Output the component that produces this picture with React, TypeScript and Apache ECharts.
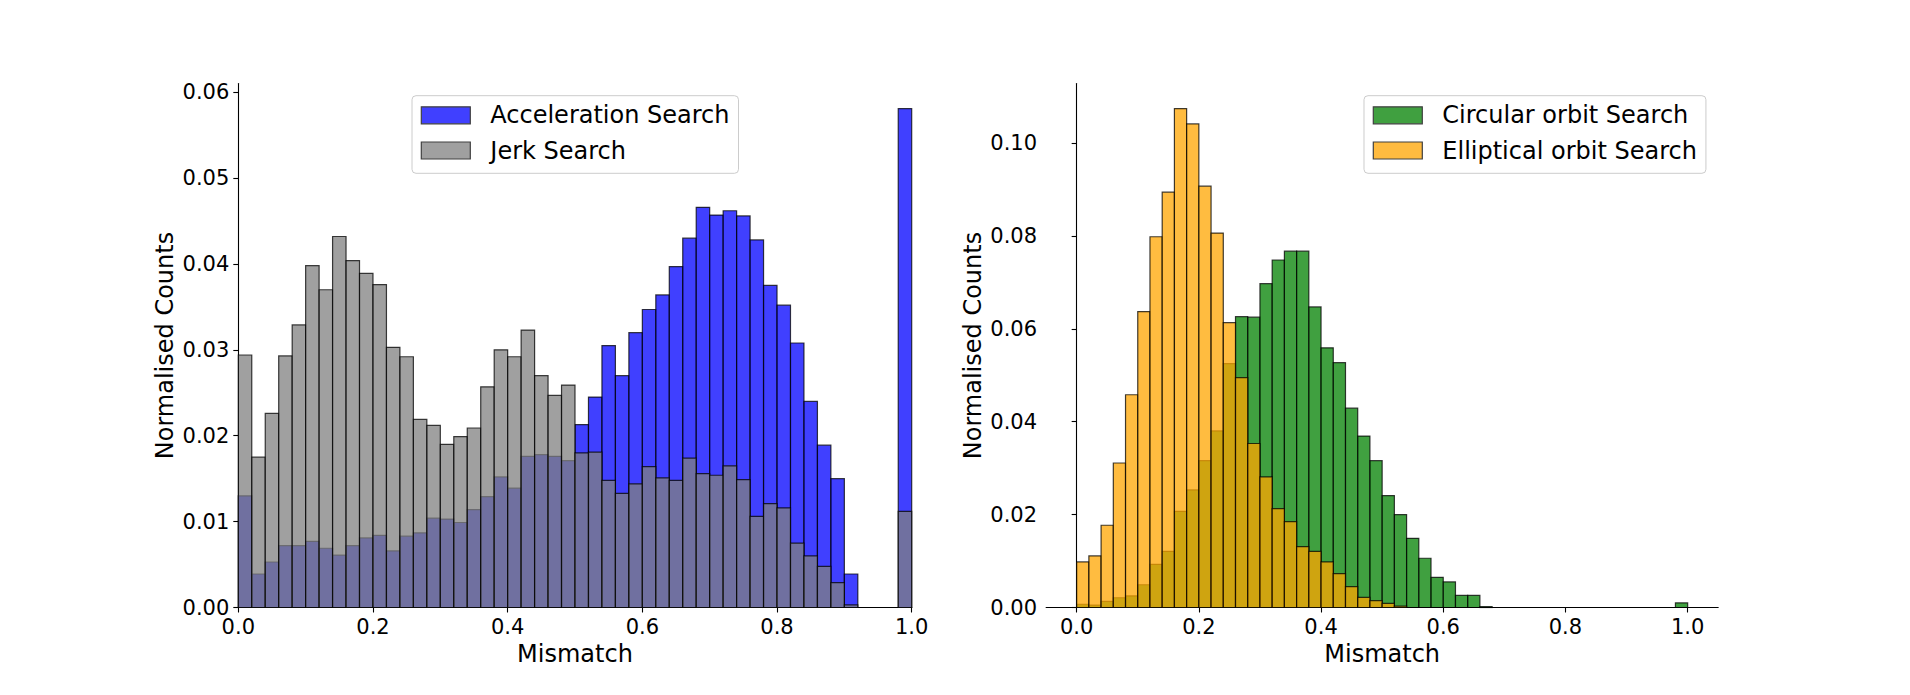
import React, { useEffect, useRef } from "react";
import * as echarts from "echarts";

// Histogram bin edges (Mismatch), 50 bins of width 0.02
const BIN_EDGES = [
  0.0, 0.02, 0.04, 0.06, 0.08, 0.1, 0.12, 0.14, 0.16, 0.18,
  0.2, 0.22, 0.24, 0.26, 0.28, 0.3, 0.32, 0.34, 0.36, 0.38,
  0.4, 0.42, 0.44, 0.46, 0.48, 0.5, 0.52, 0.54, 0.56, 0.58,
  0.6, 0.62, 0.64, 0.66, 0.68, 0.7, 0.72, 0.74, 0.76, 0.78,
  0.8, 0.82, 0.84, 0.86, 0.88, 0.9, 0.92, 0.94, 0.96, 0.98, 1.0,
];

// Left panel
const ACCEL_SEARCH = [
  0.0130, 0.0039, 0.0053, 0.0072, 0.0072, 0.0077, 0.0069, 0.0061, 0.0072, 0.0081,
  0.0084, 0.0066, 0.0083, 0.0087, 0.0104, 0.0103, 0.0099, 0.0114, 0.0129, 0.0152,
  0.0139, 0.0176, 0.0178, 0.0176, 0.0171, 0.0213, 0.0245, 0.0305, 0.0270, 0.0320,
  0.0347, 0.0364, 0.0397, 0.0430, 0.0466, 0.0457, 0.0462, 0.0456, 0.0428, 0.0375,
  0.0352, 0.0308, 0.0240, 0.0189, 0.0150, 0.0039, 0, 0, 0, 0.0581,
];
const JERK_SEARCH = [
  0.0294, 0.0175, 0.0226, 0.0293, 0.0329, 0.0398, 0.0370, 0.0432, 0.0404, 0.0389,
  0.0376, 0.0303, 0.0292, 0.0219, 0.0212, 0.0190, 0.0199, 0.0209, 0.0257, 0.0300,
  0.0292, 0.0323, 0.0270, 0.0247, 0.0259, 0.0180, 0.0181, 0.0148, 0.0133, 0.0144,
  0.0164, 0.0151, 0.0148, 0.0174, 0.0156, 0.0154, 0.0165, 0.0149, 0.0106, 0.0121,
  0.0116, 0.0075, 0.0060, 0.0048, 0.0029, 0.0003, 0, 0, 0, 0.0112,
];

// Right panel
const CIRCULAR_SEARCH = [
  0.0007, 0.0005, 0.0013, 0.0021, 0.0025, 0.0049, 0.0093, 0.0121, 0.0207, 0.0253,
  0.0316, 0.0380, 0.0525, 0.0626, 0.0625, 0.0697, 0.0748, 0.0767, 0.0767, 0.0647,
  0.0559, 0.0527, 0.0429, 0.0369, 0.0316, 0.0241, 0.0200, 0.0149, 0.0106, 0.0065,
  0.0055, 0.0026, 0.0026, 0.0002, 0, 0, 0, 0, 0, 0,
  0, 0, 0, 0, 0, 0, 0, 0, 0, 0.0010,
];
const ELLIPTICAL_SEARCH = [
  0.0098, 0.0111, 0.0177, 0.0311, 0.0458, 0.0637, 0.0798, 0.0894, 0.1074, 0.1041,
  0.0907, 0.0806, 0.0613, 0.0495, 0.0353, 0.0281, 0.0213, 0.0185, 0.0131, 0.0121,
  0.0098, 0.0073, 0.0045, 0.0022, 0.0015, 0.0009, 0.0003, 0, 0, 0,
  0, 0, 0, 0, 0, 0, 0, 0, 0, 0,
  0, 0, 0, 0, 0, 0, 0, 0, 0, 0,
];

const SERIES_NAMES = [
  "Acceleration Search",
  "Jerk Search",
  "Circular orbit Search",
  "Elliptical orbit Search",
];

const X_TICKS = [0, 0.2, 0.4, 0.6, 0.8, 1.0];
const Y_TICKS_LEFT = [0, 0.01, 0.02, 0.03, 0.04, 0.05, 0.06];
const Y_TICKS_RIGHT = [0, 0.02, 0.04, 0.06, 0.08, 0.1];

const FONT = "DejaVu Sans";

const toBins = (vals: number[]) =>
  vals.map((v, i) => [BIN_EDGES[i], BIN_EDGES[i + 1], v]);

const makeRender = (fill: string) => (params: any, api: any) => {
  const x0 = api.value(0);
  const x1 = api.value(1);
  const v = api.value(2);
  const a = api.coord([x0, v]);
  const b = api.coord([x1, 0]);
  return {
    type: "rect",
    shape: { x: a[0], y: a[1], width: b[0] - a[0], height: b[1] - a[1] },
    style: { fill, stroke: "rgba(0,0,0,0.75)", lineWidth: 1.2 },
  };
};

const axisLineStyle = { color: "#000", width: 1.1 };

function xAxis(gridIndex: number, min: number, max: number) {
  return {
    type: "value",
    gridIndex,
    min,
    max,
    name: "Mismatch",
    nameLocation: "middle",
    nameGap: 33,
    nameTextStyle: { fontFamily: FONT, fontSize: 24, color: "#000" },
    axisLine: { show: true, lineStyle: axisLineStyle },
    axisTick: { show: true, length: 5, lineStyle: axisLineStyle, customValues: X_TICKS },
    axisLabel: {
      fontFamily: FONT,
      fontSize: 21,
      color: "#000",
      margin: 9,
      customValues: X_TICKS,
      formatter: (v: number) => v.toFixed(1),
    },
    splitLine: { show: false },
  };
}

function yAxis(gridIndex: number, max: number, ticks: number[]) {
  return {
    type: "value",
    gridIndex,
    min: 0,
    max,
    name: "Normalised Counts",
    nameLocation: "middle",
    nameGap: 61,
    nameTextStyle: { fontFamily: FONT, fontSize: 24, color: "#000" },
    axisLine: { show: true, lineStyle: axisLineStyle },
    axisTick: { show: true, length: 5, lineStyle: axisLineStyle, customValues: ticks },
    axisLabel: {
      fontFamily: FONT,
      fontSize: 21,
      color: "#000",
      margin: 9,
      customValues: ticks,
      formatter: (v: number) => v.toFixed(2),
    },
    splitLine: { show: false },
  };
}

function legend(left: number, items: { name: string; color: string }[]) {
  return {
    left,
    top: 95.7,
    orient: "vertical",
    selectedMode: false,
    itemWidth: 49,
    itemHeight: 17,
    itemGap: 11.2,
    padding: [7.6, 9, 10.8, 8.7],
    backgroundColor: "rgba(255,255,255,0.8)",
    borderColor: "#cccccc",
    borderWidth: 1,
    borderRadius: 4,
    textStyle: { fontFamily: FONT, fontSize: 24, color: "#000", padding: [0, 0, 0, 15] },
    data: items.map((it) => ({
      name: it.name,
      icon: "rect",
      itemStyle: { color: it.color, borderColor: "#404040", borderWidth: 1.2 },
    })),
  };
}

export default function App() {
  const ref = useRef<HTMLDivElement>(null);

  useEffect(() => {
    if (!ref.current) return;
    const chart = echarts.init(ref.current, undefined, { renderer: "svg" });
    const leftMax = Math.max(...ACCEL_SEARCH, ...JERK_SEARCH) * 1.05;
    const rightMax = Math.max(...CIRCULAR_SEARCH, ...ELLIPTICAL_SEARCH) * 1.05;

    chart.setOption({
      animation: false,
      backgroundColor: "#fff",
      grid: [
        { left: 238.3, top: 83.6, width: 673.4, height: 523.9, containLabel: false },
        { left: 1046.1, top: 83.6, width: 672.1, height: 523.9, containLabel: false },
      ],
      xAxis: [xAxis(0, 0, 1), xAxis(1, -0.05, 1.05)],
      yAxis: [yAxis(0, leftMax, Y_TICKS_LEFT), yAxis(1, rightMax, Y_TICKS_RIGHT)],
      legend: [
        legend(412, [
          { name: SERIES_NAMES[0], color: "#4040ff" },
          { name: SERIES_NAMES[1], color: "#a0a0a0" },
        ]),
        legend(1364, [
          { name: SERIES_NAMES[2], color: "#40a040" },
          { name: SERIES_NAMES[3], color: "#ffbb40" },
        ]),
      ],
      series: [
        {
          type: "custom",
          name: SERIES_NAMES[0],
          xAxisIndex: 0,
          yAxisIndex: 0,
          encode: { x: [0, 1], y: 2 },
          itemStyle: { color: "#4040ff" },
          renderItem: makeRender("rgba(0,0,255,0.75)"),
          data: toBins(ACCEL_SEARCH),
        },
        {
          type: "custom",
          name: SERIES_NAMES[1],
          xAxisIndex: 0,
          yAxisIndex: 0,
          encode: { x: [0, 1], y: 2 },
          itemStyle: { color: "#a0a0a0" },
          renderItem: makeRender("rgba(128,128,128,0.75)"),
          data: toBins(JERK_SEARCH),
        },
        {
          type: "custom",
          name: SERIES_NAMES[2],
          xAxisIndex: 1,
          yAxisIndex: 1,
          encode: { x: [0, 1], y: 2 },
          itemStyle: { color: "#40a040" },
          renderItem: makeRender("rgba(0,128,0,0.75)"),
          data: toBins(CIRCULAR_SEARCH),
        },
        {
          type: "custom",
          name: SERIES_NAMES[3],
          xAxisIndex: 1,
          yAxisIndex: 1,
          encode: { x: [0, 1], y: 2 },
          itemStyle: { color: "#ffbb40" },
          renderItem: makeRender("rgba(255,165,0,0.75)"),
          data: toBins(ELLIPTICAL_SEARCH),
        },
      ],
    });

    return () => chart.dispose();
  }, []);

  return (
    <div
      ref={ref}
      style={{ position: "absolute", left: 0, top: 0, width: 1910, height: 695 }}
    />
  );
}
